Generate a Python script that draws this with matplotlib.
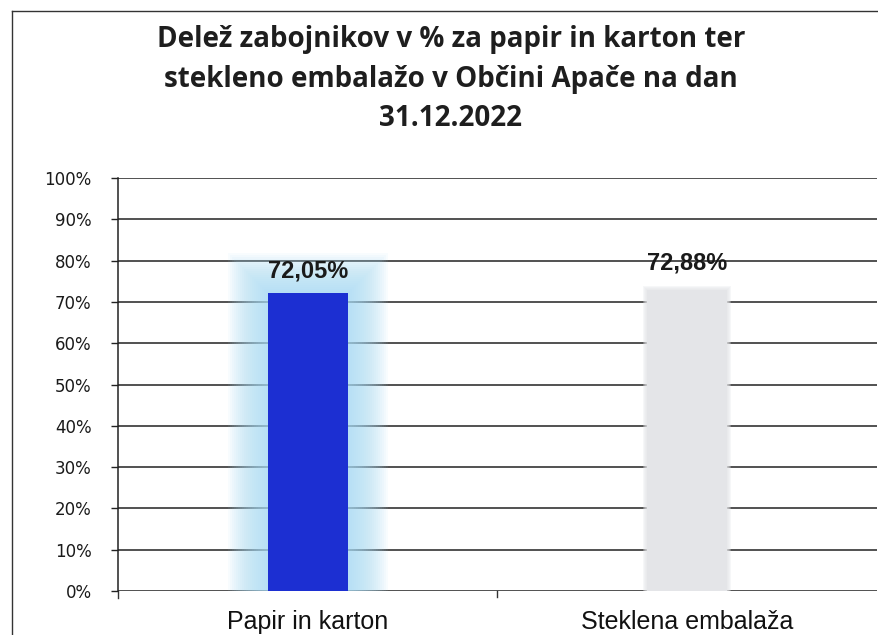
import matplotlib.pyplot as plt
from matplotlib.lines import Line2D

categories = ["Papir in karton", "Steklena embalaža"]
shares = [72.05, 72.88]
value_labels = ["72,05%", "72,88%"]
y_ticks = [0, 10, 20, 30, 40, 50, 60, 70, 80, 90, 100]

title = ("Delež zabojnikov v % za papir in karton ter\n"
         "stekleno embalažo v Občini Apače na dan\n"
         "31.12.2022")

fig = plt.figure(figsize=(8.79, 6.35), dpi=100)
ax = fig.add_axes([118 / 879, 1 - 591 / 635, 759 / 879, 413 / 635])

x = list(range(len(categories)))
bar_w = 0.21

# soft light-blue glow around the first bar (grows by a few pixels per layer)
for k in range(20):
    px = 2 * (k + 1)
    ax.bar(x[0], shares[0] + px / 4.13, width=bar_w + 2 * px / 380,
           color="#a9dcf5", alpha=0.07, linewidth=0, zorder=2)

# blurry edge for the grey bar
for k in range(4):
    px = k + 1
    ax.bar(x[1], shares[1] + px / 4.13, width=bar_w + 2 * px / 380,
           color="#e4e5e8", alpha=0.3, linewidth=0, zorder=2)

ax.bar(x[0], shares[0], width=bar_w, color="#1c2fd2", linewidth=0, zorder=3)
ax.bar(x[1], shares[1], width=bar_w, color="#e4e5e8", linewidth=0, zorder=3)

label_offsets = [5.5, 6.5]
for xi, v, lab, off in zip(x, shares, value_labels, label_offsets):
    ax.text(xi, v + off, lab, ha="center", va="center", fontsize=17,
            fontweight="bold", family="Liberation Sans", color="#1a1a1a", zorder=5)

ax.set_xlim(-0.5, 1.5)
ax.set_ylim(0, 100)
ax.set_yticks(y_ticks)
ax.set_yticklabels([f"{t}%" for t in y_ticks], family="DejaVu Sans", fontsize=12, color="#1a1a1a")
ax.yaxis.grid(True, color="#222222", linewidth=1.1, zorder=1)
ax.set_axisbelow(True)

ax.set_xticks(x)
ax.set_xticklabels(categories, family="Liberation Sans", fontsize=18, color="#111111")
ax.tick_params(axis="x", length=0, pad=14)
ax.tick_params(axis="y", length=5, width=1, color="#222222", pad=14)
ax.plot([0.5, 0.5], [0, -1.5], color="#333333", linewidth=1, clip_on=False)
ax.plot([-0.5, -0.5], [0, -1.7], color="#333333", linewidth=1, clip_on=False)

for side in ["top", "right", "bottom"]:
    ax.spines[side].set_visible(False)
ax.spines["left"].set_color("#222222")
ax.spines["left"].set_linewidth(1.1)

fig.text(451 / 879, 1 - 79 / 635, title, ha="center", va="center", fontsize=20,
         fontweight="bold", family="Open Sans", color="#1e1e1e", linespacing=1.5)

# scanned page frame
fig.add_artist(Line2D([12 / 879, 12 / 879], [0, 1 - 11 / 635], color="#333333", linewidth=1))
fig.add_artist(Line2D([12 / 879, 1], [1 - 11 / 635, 1 - 11 / 635], color="#333333", linewidth=1))

fig.savefig("out.png", dpi=100)
